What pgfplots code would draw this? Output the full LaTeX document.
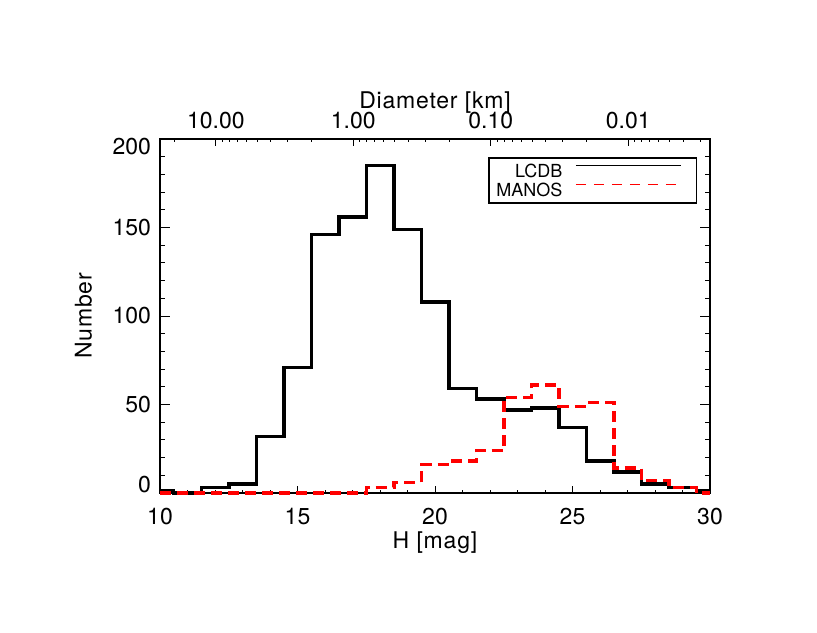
\documentclass[border=0pt]{standalone}
\usepackage{fontspec}
\setmainfont{TeX Gyre Heros}
\newfontfamily\labelfont{TeX Gyre Heros}[LetterSpace=3.5]
\usepackage{pgfplots}
\pgfplotsset{compat=1.18}

\pgfplotsset{
  hbase/.style={
    scale only axis, width=275pt, height=177pt,
    xmin=10, xmax=30, ymin=0, ymax=200,
    tick align=inside,
    axis line style={line width=0.6pt},
    every tick/.style={black, line width=0.5pt},
    /pgf/number format/assume math mode=true,
    tick label style={font=\fontsize{11.5}{13}\selectfont, inner sep=0pt},
    label style={font=\labelfont\fontsize{11.5}{13}\selectfont},
  },
}

\begin{document}
\begin{tikzpicture}
\useasboundingbox (-80pt,-69.5pt) rectangle (328.5pt,246.5pt);

% bottom axis: absolute magnitude
\begin{axis}[hbase,
  axis x line*=bottom, axis y line=none,
  xtick={10,15,...,30}, minor x tick num=4,
  major tick length=3.5pt, minor tick length=1.75pt,
  xticklabel style={anchor=base, yshift=-15.75pt},
  xlabel={H [mag]},
  xlabel style={at={(axis description cs:0.5,-0.1554)}, anchor=base},
]
\end{axis}

% top axis: diameter
\begin{axis}[hbase,
  axis x line*=top, axis y line=none,
  xtick={12.03,17.03,22.03,27.03},
  xticklabels={10.00,1.00,0.10,0.01},
  minor xtick={10.52,
    12.26,12.51,12.80,13.14,13.54,14.02,14.64,15.52,
    17.26,17.51,17.80,18.14,18.54,19.02,19.64,20.52,
    22.26,22.51,22.80,23.14,23.54,24.02,24.64,25.52,
    27.26,27.51,27.80,28.14,28.54,29.02,29.64},
  major tick length=3.5pt, minor tick length=1.75pt,
  xticklabel style={anchor=base, yshift=5.35pt},
  xlabel={Diameter [km]},
  xlabel style={at={(axis description cs:0.5,1.0862)}, anchor=base},
]
\end{axis}

% data, y axis and frame
\begin{axis}[hbase,
  clip=false,
  xtick=\empty,
  ytick={0,50,...,200}, minor y tick num=4,
  yticklabels={{\raisebox{4.25pt}[\height][\depth]{0}},50,100,150,{\raisebox{-3.6pt}[\height][\depth]{200}}},
  major tick length=5pt, minor tick length=2.5pt,
  yticklabel style={anchor=east, xshift=-4.35pt},
  ylabel={Number},
  ylabel style={at={(axis description cs:-0.1244,0.5)}, anchor=base},
  legend style={at={(rel axis cs:0.977,0.948)}, anchor=north east,
    line width=0.6pt, fill=white,
    inner xsep=3.7pt, inner ysep=3.2pt,
    font=\fontsize{9}{11}\selectfont,
    nodes={inner sep=0pt, text depth=0pt}, row sep=2.6pt, column sep=6.5pt},
  legend cell align=right, legend plot pos=right,
  legend image code/.code={\draw[#1] (0pt,2.8pt) -- (52.5pt,2.8pt); \path (56.5pt,0pt);},
]
\addplot[black, line width=1.75pt, const plot mark mid,
  legend image post style={draw=black, line width=0.5pt}] coordinates {
  (10,1) (11,0) (12,3) (13,5) (14,32) (15,71) (16,146) (17,156) (18,185)
  (19,149) (20,108) (21,59) (22,53) (23,47) (24,48) (25,37) (26,18)
  (27,12) (28,5) (29,3) (30,1)
};
\addplot[red, line width=1.75pt, dash pattern=on 5.5pt off 3pt, const plot mark mid,
  legend image post style={draw=red, line width=0.5pt, dash pattern=on 5pt off 4pt}] coordinates {
  (10,0) (11,0) (12,0) (13,0) (14,0) (15,0) (16,0) (17,0) (18,3)
  (19,6) (20,16) (21,18) (22,24) (23,54) (24,61) (25,49) (26,51)
  (27,14) (28,7) (29,3) (30,0)
};
\legend{LCDB, MANOS}
\end{axis}
\end{tikzpicture}
\end{document}
